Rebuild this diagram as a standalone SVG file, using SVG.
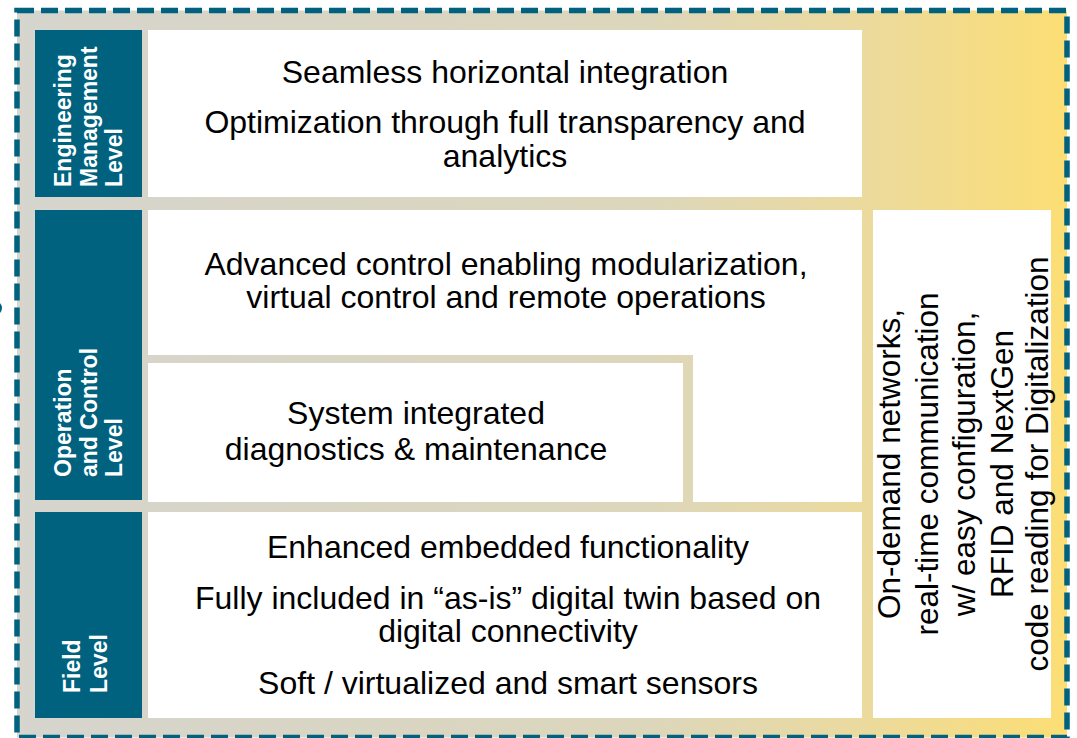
<svg xmlns="http://www.w3.org/2000/svg" width="1077" height="738" viewBox="0 0 1077 738">
  <defs>
    <linearGradient id="bg" gradientUnits="userSpaceOnUse" x1="17" y1="0" x2="1067" y2="0">
      <stop offset="0" stop-color="#d6d5ce"/>
      <stop offset="0.6" stop-color="#dcd6bb"/>
      <stop offset="0.8" stop-color="#ebda9f"/>
      <stop offset="1" stop-color="#fcde74"/>
    </linearGradient>
    <style>
      .lab { fill: #00627f; }
      .box { fill: #ffffff; }
      .ltxt { font-family: "Liberation Sans", Arial, sans-serif; font-weight: bold; font-size: 23px; fill: #ffffff; }
      .txt { font-family: "Liberation Sans", Arial, sans-serif; font-size: 32px; fill: #000000; text-anchor: middle; }
      .vtxt { font-family: "Liberation Sans", Arial, sans-serif; font-size: 31.5px; fill: #000000; text-anchor: middle; }
    </style>
  </defs>

  <rect x="17" y="10.5" width="1050" height="727" fill="url(#bg)"/>
  <rect id="frame" x="17" y="10.5" width="1050" height="727" fill="none" stroke="#00627f" stroke-width="5.5" stroke-dasharray="17 7"/>
  <path d="M0,303 Q4,308 0,313 Z" fill="#00627f"/>

  <g id="engineering-label">
    <rect class="lab" x="35" y="30" width="107" height="167"/>
    <text class="ltxt" transform="translate(71,187) rotate(-90)">Engineering</text>
    <text class="ltxt" transform="translate(96.5,187) rotate(-90)">Management</text>
    <text class="ltxt" transform="translate(122,187) rotate(-90)">Level</text>
  </g>
  <g id="operation-label">
    <rect class="lab" x="35" y="210" width="107" height="290"/>
    <text class="ltxt" transform="translate(71,477) rotate(-90)">Operation</text>
    <text class="ltxt" transform="translate(96.5,477) rotate(-90)">and Control</text>
    <text class="ltxt" transform="translate(122,477) rotate(-90)">Level</text>
  </g>
  <g id="field-label">
    <rect class="lab" x="35" y="512" width="107" height="206"/>
    <text class="ltxt" transform="translate(80,693) rotate(-90)">Field</text>
    <text class="ltxt" transform="translate(107,693) rotate(-90)">Level</text>
  </g>

  <g id="engineering-box">
    <rect class="box" x="148" y="30" width="714" height="167"/>
    <text class="txt" x="505" y="83">Seamless horizontal integration</text>
    <text class="txt" x="505" y="133">Optimization through full transparency and</text>
    <text class="txt" x="505" y="167">analytics</text>
  </g>
  <g id="advanced-control-box">
    <polygon class="box" points="148,210 862,210 862,502 693,502 693,355 148,355"/>
    <text class="txt" x="506" y="275">Advanced control enabling modularization,</text>
    <text class="txt" x="506" y="308">virtual control and remote operations</text>
  </g>
  <g id="diagnostics-box">
    <rect class="box" x="148" y="363" width="535" height="139"/>
    <text class="txt" x="416" y="424">System integrated</text>
    <text class="txt" x="416" y="460">diagnostics &amp; maintenance</text>
  </g>
  <g id="field-box">
    <rect class="box" x="148" y="512" width="714" height="206"/>
    <text class="txt" x="508" y="558">Enhanced embedded functionality</text>
    <text class="txt" x="508" y="609">Fully included in “as-is” digital twin based on</text>
    <text class="txt" x="508" y="642">digital connectivity</text>
    <text class="txt" x="508" y="694">Soft / virtualized and smart sensors</text>
  </g>
  <g id="network-box">
    <rect class="box" x="873" y="210" width="178" height="508"/>
    <text class="vtxt" transform="translate(900,464) rotate(-90)">On-demand networks,</text>
    <text class="vtxt" transform="translate(937.5,464) rotate(-90)">real-time communication</text>
    <text class="vtxt" transform="translate(975,464) rotate(-90)">w/ easy configuration,</text>
    <text class="vtxt" transform="translate(1012.5,464) rotate(-90)">RFID and NextGen</text>
    <text class="vtxt" transform="translate(1048,464) rotate(-90)">code reading for Digitalization</text>
  </g>
  <g id="connectors"></g>
</svg>
